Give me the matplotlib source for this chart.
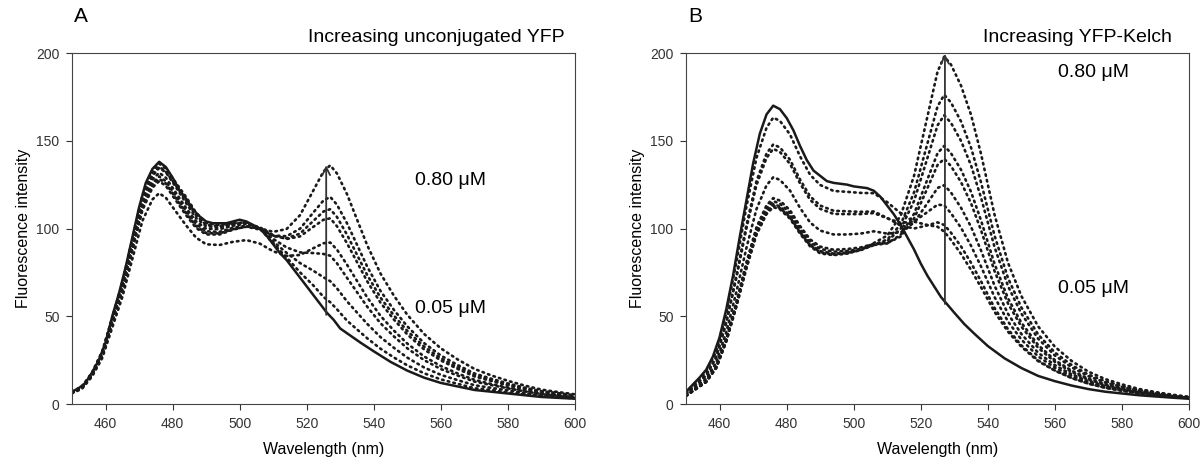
import numpy as np
import matplotlib.pyplot as plt

plt.rcParams['font.family'] = ['Liberation Sans', 'DejaVu Sans']

# wavelength grid (nm) for the dotted traces
wl = [450, 453, 456, 459, 462, 465, 468, 471, 474, 476, 478, 481, 484, 487, 490,
      494, 498, 502, 506, 510, 514, 518, 522, 525, 527, 529, 532, 535, 538, 542,
      546, 550, 555, 560, 565, 570, 575, 580, 585, 590, 595, 600]
# finer grid for the solid (donor only) traces
wl_solid = [450, 452, 454, 456, 458, 460, 462, 464, 466, 468, 470, 472, 474, 476, 478,
            480, 482, 484, 486, 488, 490, 492, 494, 496, 498, 500, 502, 504, 506, 508,
            510, 512, 514, 516, 518, 520, 522, 524, 526, 528, 530, 533, 536, 540, 545,
            550, 555, 560, 565, 570, 575, 580, 585, 590, 595, 600]

# ---- panel A : increasing unconjugated YFP ----
A_solid = [7, 9, 12, 18, 25, 35, 50, 63, 78, 95, 112, 126, 134, 138, 135,
           129, 122, 117, 111, 107, 104, 103, 103, 103, 104, 105, 104, 102, 100, 96,
           91, 86, 82, 77, 72, 67, 62, 57, 52, 48, 43, 39, 35, 30, 24,
           19, 15, 12, 10, 8, 7, 6, 5, 4, 3.5, 3]
A_dot1 = [7, 10, 18, 30, 49, 69, 94, 119, 133, 137, 134, 126, 118, 109, 103,
          102, 103, 103.5, 100, 91.5, 83.5, 75, 67.5, 61, 58, 54, 47.5, 42.5, 37.5, 31.5,
          26.5, 22, 17.5, 14, 11.5, 9, 8, 6.5, 5.5, 4.5, 4, 3.2]
A_dot2 = [6.9, 9.8, 17.6, 29.4, 49, 68.6, 93.1, 117.6, 131.3, 135.2, 132.3, 124.5, 116, 107.5, 102.1,
          101.3, 102.7, 103.2, 99.9, 92.6, 86.1, 80.3, 75.9, 72.2, 70, 65.9, 58.5, 52.1, 45.7, 38.1,
          32, 26.4, 20.8, 16.6, 13.6, 10.7, 9.2, 7.7, 6.3, 5, 4.3, 3.6]
A_dot3 = [6.8, 9.7, 17.5, 29.1, 48.5, 67.9, 92.2, 116.4, 130, 134.5, 132, 123.5, 114.5, 106, 101.3,
          100.6, 102.3, 103.1, 100.2, 94.1, 89.2, 86.4, 86, 85.5, 84.5, 80.2, 71.9, 63.7, 55.5, 46,
          38.5, 31.7, 25, 19.9, 16.2, 12.8, 10.8, 8.9, 7.2, 5.7, 4.8, 4]
A_dot4 = [6.1, 8.7, 15.7, 26.1, 43.5, 60.9, 82.7, 104.4, 116.6, 120.1, 117.5, 109.6, 101.8, 94.8, 91,
          90.6, 92.4, 93.4, 91.4, 87, 84.4, 84.9, 88.8, 91.6, 92, 88, 79.4, 70.1, 60.8, 50.2,
          41.8, 34.4, 27.1, 21.6, 17.4, 13.8, 11.4, 9.3, 7.6, 5.9, 4.9, 4.1]
A_dot5 = [6.7, 9.6, 17.2, 28.7, 47.8, 66.9, 90.7, 114.6, 128, 131.8, 128.9, 120.3, 111.7, 104.1, 99.9,
          99.6, 101.6, 102.8, 100.7, 96.2, 94, 95.5, 101, 105, 105.8, 101.3, 91.6, 80.8, 70, 57.7,
          48.1, 39.6, 31.1, 24.8, 20, 15.7, 13.1, 10.6, 8.6, 6.7, 5.6, 4.6]
A_dot6 = [6.6, 9.4, 16.9, 28.2, 47, 65.8, 89.3, 112.8, 126, 129.7, 126.9, 118.4, 110, 102.5, 98.4,
          98.1, 100.4, 101.6, 99.8, 95.7, 94.4, 97.1, 104.4, 109.7, 111, 106.6, 96.5, 85, 73.6, 60.6,
          50.4, 41.6, 32.7, 26, 20.9, 16.5, 13.6, 11, 8.9, 7, 5.9, 4.7]
A_dot7 = [6.5, 9.3, 16.7, 27.9, 46.5, 65.1, 88.4, 111.6, 124.6, 128.3, 125.6, 117.2, 108.8, 101.4, 97.4,
          97.2, 99.6, 101, 99.4, 96, 95.6, 99.9, 109.2, 116, 118, 113.6, 103, 90.7, 78.4, 64.4,
          53.6, 44.2, 34.7, 27.6, 22.2, 17.4, 14.4, 11.7, 9.3, 7.3, 6.2, 4.9]
A_dot8 = [6.4, 9.2, 16.6, 27.6, 46, 64.4, 87.4, 110.4, 123.3, 127, 124.2, 115.9, 107.6, 100.3, 96.6,
          96.6, 99.3, 101.1, 100.1, 98.1, 99.7, 107.6, 121.8, 132.5, 136, 131.4, 119.6, 105.1, 90.6, 74.3,
          61.7, 50.8, 39.9, 31.7, 25.4, 20, 16.3, 13.2, 10.5, 8.2, 6.8, 5.5]

# ---- panel B : increasing YFP-Kelch ----
B_solid = [7, 11, 15, 19.5, 27, 38, 54, 73, 95, 116, 137, 154, 165, 170, 168,
           163, 156, 147, 139, 133, 130, 127, 126, 125.5, 125, 124, 123.5, 123, 121.5, 118,
           113, 108, 102, 95, 88, 80, 73, 67, 61, 56.5, 52, 45.5, 40, 33, 26,
           20.5, 16, 13, 10.5, 8.5, 7, 6, 5, 4.3, 3.6, 3]
B_dot1 = [6.7, 12.5, 18.2, 29.8, 51.8, 80.6, 112.3, 140.2, 157.4, 163.2, 161.3, 153.6, 141.1, 130.6, 124.8,
          121.4, 120.9, 120.3, 120.1, 115, 108.7, 103.9, 102, 101, 98.2, 93.5, 85.5, 76.4, 66.4, 52.5,
          41.2, 32.6, 24.4, 19, 14.8, 11.6, 9.3, 7.7, 6.2, 5.2, 4.3, 3.5]
B_dot2 = [6.1, 11.3, 16.5, 27, 47, 73.1, 101.8, 127, 142.7, 147.9, 146.2, 139.2, 127.9, 118.3, 113.1,
          110.1, 109.8, 109.5, 109.7, 106, 101.7, 100, 101.8, 103.5, 102, 97.6, 89.8, 80.4, 69.8, 54.7,
          42.6, 33.4, 24.8, 19.1, 14.8, 11.6, 9.2, 7.5, 6.1, 5, 4, 3.3]
B_dot3 = [6, 11.1, 16.2, 26.5, 46.2, 71.8, 100, 124.8, 140.2, 145.4, 143.6, 136.8, 125.7, 116.3, 111.2,
          108.3, 108.2, 108.2, 108.8, 105.8, 103.2, 104, 109.4, 113.6, 113.2, 108.7, 100.4, 90.1, 78.2, 60.9,
          47, 36.7, 27.1, 20.7, 16, 12.4, 9.8, 8, 6.4, 5.3, 4.3, 3.4]
B_dot4 = [5.3, 9.9, 14.4, 23.6, 41, 63.8, 88.9, 111, 124.6, 129.2, 127.7, 121.6, 111.7, 103.4, 98.8,
          96.6, 96.6, 97.1, 98.4, 97.1, 97.8, 103.4, 114.5, 123.1, 124.7, 120.5, 111.8, 100.9, 87.3, 67.4,
          51.4, 39.9, 29.2, 22.1, 16.9, 13, 10.2, 8.2, 6.5, 5.3, 4.2, 3.4]
B_dot5 = [4.8, 9, 13.1, 21.4, 37.3, 58, 80.7, 100.7, 113.2, 117.3, 115.9, 110.4, 101.4, 93.8, 89.7,
          87.9, 88.3, 89.2, 91.2, 91.7, 95.4, 105.7, 123.1, 136.2, 139.7, 135.6, 126.4, 114.3, 98.8, 75.7,
          57.3, 44.1, 32, 24, 18.2, 13.9, 10.8, 8.6, 6.8, 5.5, 4.3, 3.4]
B_dot6 = [4.8, 8.8, 12.9, 21.1, 36.7, 57.1, 79.6, 99.3, 111.5, 115.6, 114.2, 108.8, 100, 92.5, 88.4,
          86.8, 87.2, 88.3, 90.6, 91.5, 96.4, 108.4, 128.1, 142.9, 147.1, 142.9, 133.5, 120.8, 104.4, 79.8,
          60.2, 46.3, 33.6, 25, 19, 14.4, 11.3, 9, 7, 5.6, 4.3, 3.4]
B_dot7 = [4.7, 8.7, 12.7, 20.8, 36.2, 56.3, 78.4, 97.8, 109.9, 113.9, 112.6, 107.2, 98.5, 91.1, 87.1,
          85.7, 86.3, 87.7, 90.5, 92.8, 99.8, 115.7, 140.3, 158.8, 164.5, 160.2, 149.9, 135.9, 117.3, 89.4,
          67.2, 51.5, 37.2, 27.6, 20.9, 15.8, 12.3, 9.7, 7.6, 6.1, 4.7, 3.6]
B_dot8 = [4.7, 8.6, 12.6, 20.6, 35.9, 55.9, 77.8, 97.1, 109.1, 113.1, 111.7, 106.4, 97.8, 90.4, 86.5,
          85.2, 85.9, 87.6, 90.8, 93.7, 102.3, 120.6, 148.6, 169.6, 176.2, 171.8, 161, 146, 126, 95.9,
          71.8, 55, 39.6, 29.3, 22.2, 16.7, 13, 10.2, 7.9, 6.4, 4.9, 3.8]
B_dot9 = [4.6, 8.6, 12.5, 20.5, 35.6, 55.4, 77.2, 96.4, 108.2, 112.2, 110.9, 105.6, 97, 89.8, 85.8,
          84.8, 85.7, 87.9, 91.7, 96, 107.3, 130.1, 164, 189.4, 198, 193.4, 181.4, 164.7, 142.2, 107.8,
          80.5, 61.5, 44.2, 32.6, 24.5, 18.4, 14.2, 11.2, 8.6, 6.8, 5.3, 4.1]

A_dots = [A_dot1, A_dot2, A_dot3, A_dot4, A_dot5, A_dot6, A_dot7, A_dot8]
B_dots = [B_dot1, B_dot2, B_dot3, B_dot4, B_dot5, B_dot6, B_dot7, B_dot8, B_dot9]

# arrow: wavelength, start, end
A_arrow = [525.8, 50.8, 136]
B_arrow = [527.2, 57, 199.5]

ink = '#1a1a1a'

fig = plt.figure(figsize=(12.04, 4.67), dpi=100)
axA = fig.add_axes([0.0598, 0.1349, 0.4178, 0.7516])
axB = fig.add_axes([0.5698, 0.1349, 0.4178, 0.7516])


def draw_panel(ax, solid, dots, arrow, title, letter, title_x, lab_x, lab_hi, lab_lo):
    for d in dots:
        ax.plot(wl, d, color=ink, lw=1.9, linestyle=(0, (0.6, 1.6)),
                dash_capstyle='round', solid_joinstyle='round')
    ax.plot(wl_solid, solid, color=ink, lw=1.8, solid_joinstyle='round')
    ax.annotate('', xy=(arrow[0], arrow[2]), xytext=(arrow[0], arrow[1]),
                arrowprops=dict(arrowstyle='->', color='#333333', lw=1.3,
                                mutation_scale=14, shrinkA=0, shrinkB=0))
    ax.set_xlim(450, 600)
    ax.set_ylim(0, 200)
    ax.set_xticks(np.arange(460, 601, 20))
    ax.set_yticks(np.arange(0, 201, 50))
    ax.tick_params(direction='out', length=4, width=0.8, labelsize=10,
                   colors='#333333', pad=5)
    for s in ax.spines.values():
        s.set_linewidth(0.8)
        s.set_color('#444444')
    ax.set_xlabel('Wavelength (nm)', fontsize=11.5, labelpad=8)
    ax.set_ylabel('Fluorescence intensity', fontsize=11.5, labelpad=4)
    ax.text(lab_x, lab_hi, '0.80 \u03bcM', fontsize=14, va='center', ha='left')
    ax.text(lab_x, lab_lo, '0.05 \u03bcM', fontsize=14, va='center', ha='left')
    fig.text(title_x, 1 - 37 / 467, title, fontsize=14, ha='right', va='center')
    pos = ax.get_position()
    fig.text(pos.x0 + 0.002, 1 - 17 / 467, letter, fontsize=15, ha='left', va='center')


draw_panel(axA, A_solid, A_dots, A_arrow, 'Increasing unconjugated YFP', 'A',
           565 / 1204, 552.3, 127.6, 54.7)
draw_panel(axB, B_solid, B_dots, B_arrow, 'Increasing YFP-Kelch', 'B',
           1172 / 1204, 561, 189, 66)

fig.savefig('out.png', dpi=100, facecolor='white')
